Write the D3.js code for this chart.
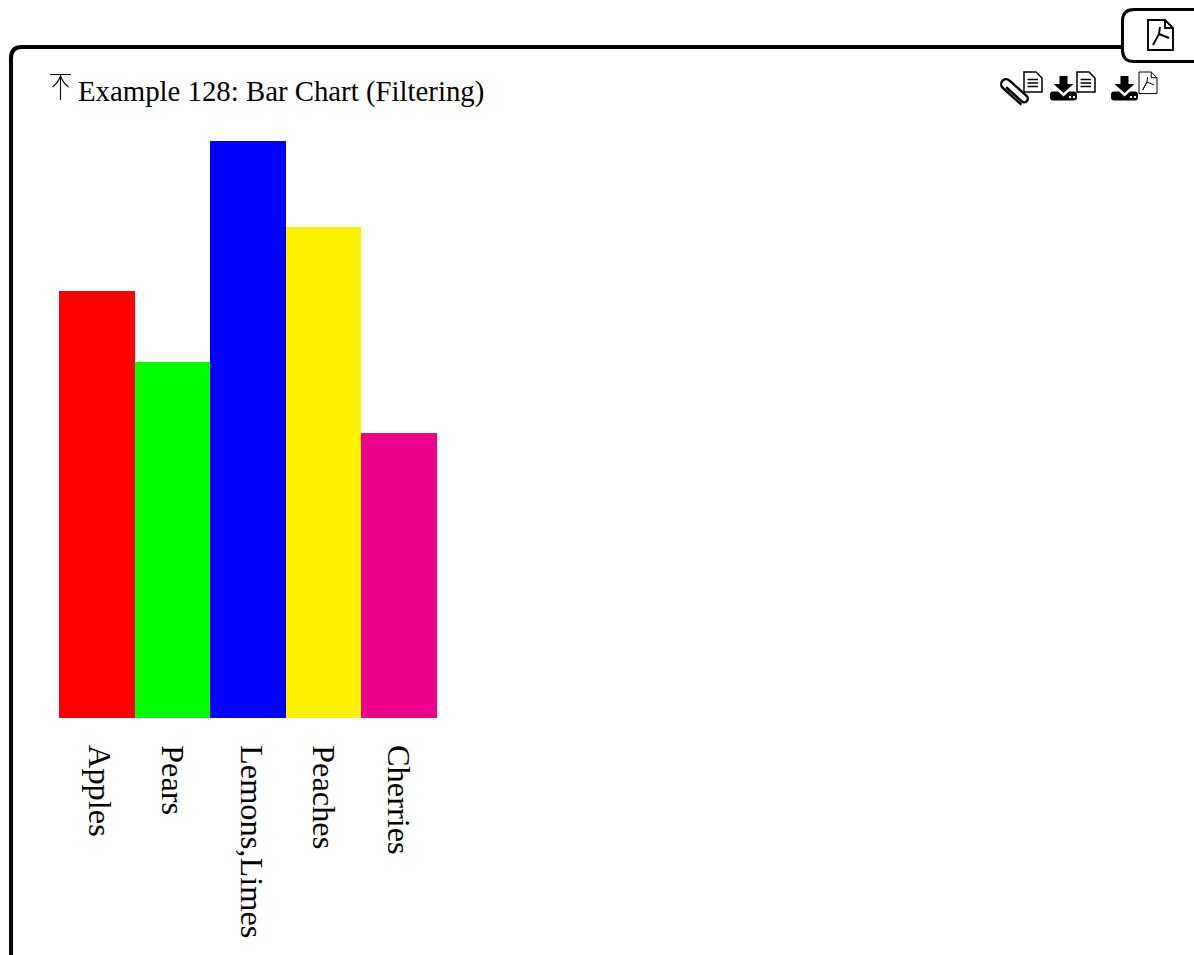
<!DOCTYPE html>
<html><head><meta charset="utf-8">
<style>html,body{margin:0;padding:0;background:#fff;overflow:hidden}svg{display:block}</style>
<script src="https://cdn.jsdelivr.net/npm/d3@7/dist/d3.min.js"></script>
</head><body><svg id="c" width="1194" height="955"></svg>
<script>
const categories=["Apples","Pears","Lemons,Limes","Peaches","Cherries"];
const values=[6,5,8.1,6.89,4];
const colors=["#ff0000","#00ff00","#0000ff","#fff200","#ec008c"];
const titleText="Example 128: Bar Chart (Filtering)";
const svg=d3.select("#c");
const serif="'Liberation Serif',serif";
const labelSize=32.4;
// frame
svg.append("path").attr("d","M11 955V58Q11 47 22 47H1124").attr("fill","none").attr("stroke","#000").attr("stroke-width",4);
svg.append("path").attr("d","M1200 9.5H1134Q1122.5 9.5 1122.5 21V50Q1122.5 61.5 1134 61.5H1200").attr("fill","#fff").attr("stroke","#000").attr("stroke-width",3);
// title
svg.append("text").attr("x",78).attr("y",101).attr("font-family",serif).attr("font-size",28.8).attr("fill","#000").text(titleText);
svg.append("path").attr("d","M50 74.5H71M60.5 100V75M52.5 87Q58 83 60.5 76Q63 83 68.5 87").attr("fill","none").attr("stroke","#000").attr("stroke-width",1.1);
// chart
const x=d3.scaleBand().domain(categories).range([59,437]);
const y=d3.scaleLinear().domain([0,8.1]).range([718,141]);
const data=categories.map((c,i)=>({c,v:values[i],f:colors[i]}));
svg.selectAll("rect.bar").data(data).join("rect").attr("class","bar")
 .attr("x",d=>x(d.c)).attr("width",x.bandwidth()).attr("y",d=>y(d.v)).attr("height",d=>y(0)-y(d.v)).attr("fill",d=>d.f).attr("shape-rendering","crispEdges");
const ctx=document.createElement("canvas").getContext("2d");
ctx.font=`${labelSize}px 'Liberation Serif'`;
svg.selectAll("text.lab").data(data).join("text").attr("class","lab")
 .attr("transform",d=>{const m=ctx.measureText(d.c);
   const b=x(d.c)+x.bandwidth()/2-(m.actualBoundingBoxAscent-m.actualBoundingBoxDescent)/2;
   return `translate(${b},745) rotate(90)`;})
 .attr("font-family",serif).attr("font-size",labelSize).attr("fill","#000").text(d=>d.c);
// icons
function pdf(px,py,s,w){
 const n=svg.append("g").attr("transform",`translate(${px},${py}) scale(${s})`).attr("fill","none").attr("stroke","#000").attr("stroke-width",w/s);
 n.append("path").attr("d","M0 0H17L25 8V30H0Z");
 n.append("path").attr("d","M17 0V8H25");
 n.append("path").attr("d","M5 25L11 14L12 7M11 14L21 18M11 14L5 25");
}
function doc(px,py){
 const n=svg.append("g").attr("transform",`translate(${px},${py})`).attr("fill","none").attr("stroke","#000").attr("stroke-width",1.5);
 n.append("path").attr("d","M0 0H12L18 6V20H0Z");
 n.append("path").attr("d","M3.5 7.5H14M3.5 11H14M3.5 14.5H14").attr("stroke-width",1.7);
}
function dl(px,py){
 const n=svg.append("g").attr("transform",`translate(${px},${py})`).attr("fill","#000");
 n.append("path").attr("d","M9.5 0H17.5V8H23.5L13.5 17L3.5 8H9.5Z");
 n.append("path").attr("d","M3 15.5H8L13.5 20.5L19 15.5H24Q27 15.5 27 18.5V21.5Q27 24.5 24 24.5H3Q0 24.5 0 21.5V18.5Q0 15.5 3 15.5Z");
 n.append("path").attr("d","M19 20h2v2h-2zM23 20h2v2h-2z").attr("fill","#fff");
}
pdf(1148,20,1,1.9);
doc(1024,72);
svg.append("g").attr("transform","translate(1014,92) rotate(42)").append("path")
 .attr("d","M14 4.5H-11A5 5 0 0 1 -11 -5.5H12A3.6 3.6 0 0 1 12 1.7H-9").attr("fill","none").attr("stroke","#000").attr("stroke-width",2.4);
dl(1050,76);doc(1077,72);
dl(1111,76);pdf(1139,72,.72,1);
</script></body></html>
